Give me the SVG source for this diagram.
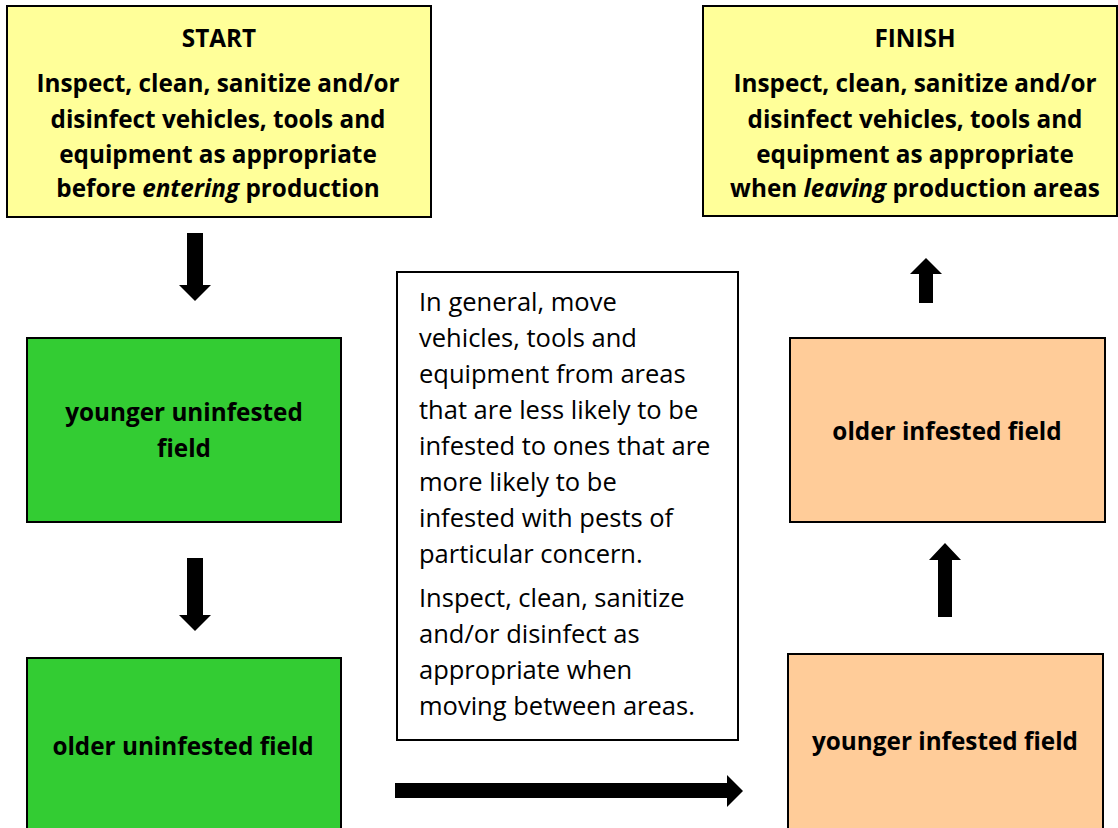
<svg xmlns="http://www.w3.org/2000/svg" width="1118" height="828" viewBox="0 0 1118 828">
<style>
.box{stroke:#000;stroke-width:2}
.y{fill:#FFFF99}
.g{fill:#33CC33}
.o{fill:#FFCC99}
.w{fill:#FFFFFF}
.b{font-family:"Open Sans","Liberation Sans",sans-serif;font-weight:bold;font-size:24.3px;fill:#000;text-anchor:middle}
.n{font-family:"Open Sans","Liberation Sans",sans-serif;font-size:25.5px;fill:#000}
.arr{fill:#000}
</style>
<rect width="1118" height="828" fill="#fff"/>
<g id="start">
<rect class="box y" x="7" y="6" width="424" height="211"/>
<text class="b" x="219" y="47">START</text>
<text class="b" x="218" y="92">Inspect, clean, sanitize and/or</text>
<text class="b" x="218" y="128">disinfect vehicles, tools and</text>
<text class="b" x="218" y="163">equipment as appropriate</text>
<text class="b" x="218" y="197">before <tspan font-style="italic">entering</tspan> production</text>
</g>
<g id="finish">
<rect class="box y" x="703" y="6" width="414" height="210"/>
<text class="b" x="915" y="47">FINISH</text>
<text class="b" x="915" y="92">Inspect, clean, sanitize and/or</text>
<text class="b" x="915" y="128">disinfect vehicles, tools and</text>
<text class="b" x="915" y="163">equipment as appropriate</text>
<text class="b" x="915" y="197">when <tspan font-style="italic">leaving</tspan> production areas</text>
</g>
<g id="younger-uninfested">
<rect class="box g" x="27" y="338" width="314" height="184"/>
<text class="b" x="184" y="421">younger uninfested</text>
<text class="b" x="184" y="457">field</text>
</g>
<g id="older-uninfested">
<rect class="box g" x="27" y="658" width="314" height="180"/>
<text class="b" x="183" y="755">older uninfested field</text>
</g>
<g id="older-infested">
<rect class="box o" x="790" y="338" width="315" height="184"/>
<text class="b" x="947" y="440">older infested field</text>
</g>
<g id="younger-infested">
<rect class="box o" x="788" y="654" width="315" height="184"/>
<text class="b" x="945" y="750">younger infested field</text>
</g>
<g id="note">
<rect class="box w" x="397" y="272" width="341" height="468"/>
<text class="n" x="419" y="311">In general, move</text>
<text class="n" x="419" y="347">vehicles, tools and</text>
<text class="n" x="419" y="383">equipment from areas</text>
<text class="n" x="419" y="419">that are less likely to be</text>
<text class="n" x="419" y="455">infested to ones that are</text>
<text class="n" x="419" y="491">more likely to be</text>
<text class="n" x="419" y="527">infested with pests of</text>
<text class="n" x="419" y="563">particular concern.</text>
<text class="n" x="419" y="607">Inspect, clean, sanitize</text>
<text class="n" x="419" y="643">and/or disinfect as</text>
<text class="n" x="419" y="679">appropriate when</text>
<text class="n" x="419" y="715">moving between areas.</text>
</g>
<g id="connectors">
<polygon class="arr" points="187,233 203,233 203,285 211,285 195,301 179,285 187,285"/>
<polygon class="arr" points="187,558 203,558 203,615 211,615 195,631 179,615 187,615"/>
<polygon class="arr" points="919,303 933,303 933,274 942,274 926,258 910,274 919,274"/>
<polygon class="arr" points="938,617 952,617 952,560 961,560 945,543 929,560 938,560"/>
<polygon class="arr" points="395,783 727,783 727,775 743,791 727,807 727,798 395,798"/>
</g>
</svg>
